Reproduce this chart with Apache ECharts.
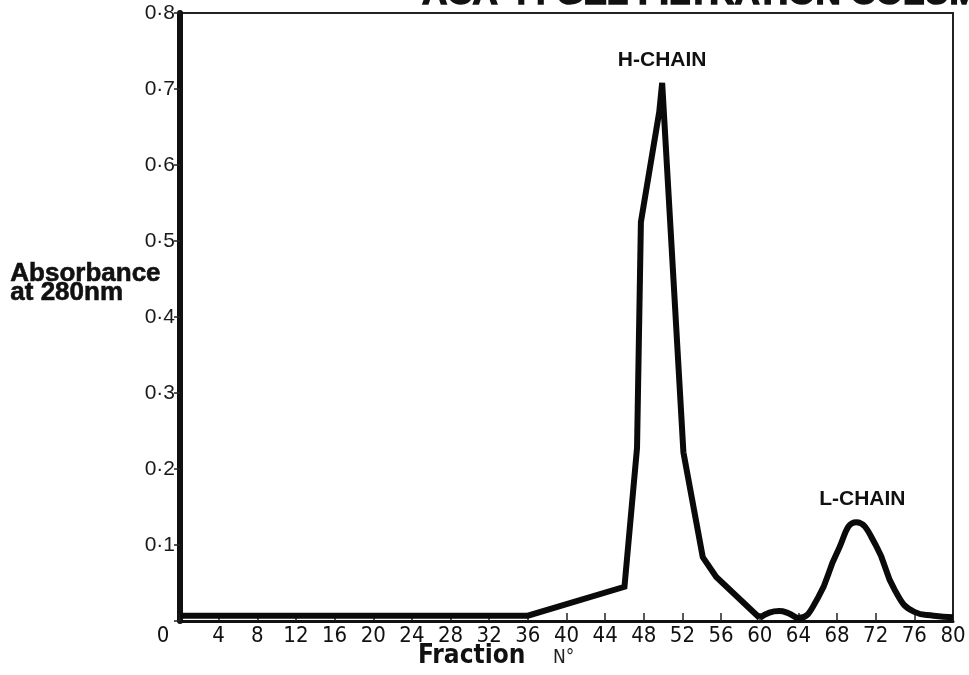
<!DOCTYPE html>
<html>
<head>
<meta charset="utf-8">
<script src="https://cdn.jsdelivr.net/npm/echarts@6/dist/echarts.min.js"></script>
<style>
  html, body { margin: 0; padding: 0; background: #fff; }
  #chart { width: 969px; height: 675px; }
</style>
</head>
<body>
<div id="chart"></div>
<script>
// fraction number vs absorbance
const hChain = [
  [0, 0.007], [36, 0.007], [46, 0.045], [47.3, 0.228], [47.7, 0.525],
  [49.6, 0.67], [49.9, 0.708], [52.1, 0.222], [54.1, 0.084], [55.5, 0.058],
  [60, 0.004],
];
const lChain = [
  [60, 0.004], [61, 0.011], [62, 0.013], [63, 0.01], [64, 0.004],
  [66, 0.03], [68, 0.09], [70, 0.13], [72, 0.1], [74, 0.04],
  [76, 0.012], [78, 0.007], [80, 0.005],
];
const peakLabels = [
  { name: 'H-CHAIN', coord: [49.9, 0.708] },
  { name: 'L-CHAIN', coord: [70, 0.13], label: { offset: [6, 0] } },
];

const narrow = '"Liberation Sans Narrow", "DejaVu Sans Condensed", sans-serif';
const sans = '"Liberation Sans", Arial, sans-serif';

const myChart = echarts.init(document.getElementById('chart'));
myChart.setOption({
  animation: false,
  title: {
    text: 'ACA 44 GEL FILTRATION COLUMN',
    left: 417,
    top: -28,
    textStyle: {
      fontFamily: sans, fontWeight: 'bold', fontSize: 35, color: '#111',
      textBorderColor: '#111', textBorderWidth: 1.5,
    },
  },
  grid: {
    left: 180,
    right: 16,
    top: 13,
    bottom: 54,
    show: true,
    borderColor: '#222',
    borderWidth: 2,
  },
  xAxis: {
    type: 'value',
    min: 0,
    max: 80,
    interval: 4,
    splitLine: { show: false },
    axisLine: { lineStyle: { color: '#111', width: 3 } },
    axisTick: { inside: true, length: 8, lineStyle: { color: '#222', width: 1.5 } },
    axisLabel: {
      margin: 4,
      fontFamily: narrow,
      fontSize: 22,
      color: '#111',
      formatter: v => (v === 0 ? '{z|0}' : String(v)),
      rich: { z: { fontFamily: narrow, fontSize: 22, color: '#111', padding: [0, 34, 0, 0] } },
    },
  },
  yAxis: {
    type: 'value',
    min: 0,
    max: 0.8,
    interval: 0.1,
    splitLine: { show: false },
    axisLine: { lineStyle: { color: '#111', width: 6 } },
    axisTick: { length: 6, lineStyle: { color: '#222', width: 1.5 } },
    axisLabel: {
      margin: 5,
      fontFamily: sans,
      fontSize: 21,
      color: '#1a1a1a',
      formatter: v => (v === 0 ? '' : v.toFixed(1).replace('.', '·')),
    },
  },
  graphic: [
    {
      type: 'text',
      left: 10,
      top: 261,
      style: {
        text: 'Absorbance\nat 280nm',
        font: 'bold 26px ' + sans,
        lineHeight: 19,
        fill: '#111',
        stroke: '#111',
        lineWidth: 0.6,
      },
    },
    {
      type: 'text',
      left: 418,
      top: 643,
      style: { text: 'Fraction', font: 'bold 26px ' + narrow, fill: '#111' },
    },
    {
      type: 'text',
      left: 553,
      top: 649,
      style: { text: 'N°', font: '19px ' + narrow, fill: '#222' },
    },
  ],
  series: [
    {
      type: 'line',
      data: hChain,
      showSymbol: false,
      clip: false,
      lineStyle: { color: '#0a0a0a', width: 6, join: 'miter' },
      markPoint: {
        symbol: 'circle',
        symbolSize: 1,
        itemStyle: { color: 'rgba(0,0,0,0)' },
        label: {
          show: true,
          position: 'top',
          formatter: p => p.name,
          distance: 12,
          fontFamily: sans,
          fontWeight: 'bold',
          fontSize: 21,
          color: '#111',
        },
        data: peakLabels,
      },
    },
    {
      type: 'line',
      data: lChain,
      smooth: 0.5,
      showSymbol: false,
      clip: false,
      lineStyle: { color: '#0a0a0a', width: 6 },
    },
  ],
});
</script>
</body>
</html>
